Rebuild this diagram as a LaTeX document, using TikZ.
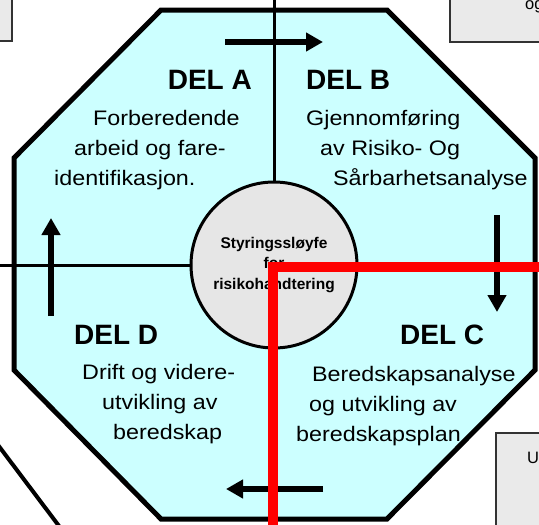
\documentclass[tikz,border=0pt]{standalone}
\usepackage{fontspec}
\setmainfont{Liberation Sans}
\newfontfamily\bodyfont[FakeStretch=1.11]{Liberation Sans}
\usetikzlibrary{arrows.meta}
\definecolor{octcyan}{HTML}{CCFFFF}
\definecolor{hubgray}{HTML}{E6E6E6}
\definecolor{boxgray}{HTML}{EAEAEA}

\begin{document}
\begin{tikzpicture}[x=1pt, y=-1pt,
  sidebox/.style={fill=boxgray, draw=black!80, line width=1.5pt},
  wall/.style={line width=5pt, line join=miter},
  spoke/.style={line width=3pt},
  hub/.style={circle, draw, line width=3pt, fill=hubgray, minimum size=166pt, inner sep=0pt,
    align=center, font=\bfseries\fontsize{15.5}{20.5}\selectfont},
  deltitle/.style={font=\bfseries\fontsize{28}{30}\selectfont, inner sep=0pt},
  deltext/.style={font=\bodyfont\fontsize{21}{30}\selectfont, align=left, inner sep=0pt, anchor=north west},
  boxtext/.style={font=\fontsize{16.5}{18}\selectfont, inner sep=0pt, anchor=base west},
  flow/.style={line width=6pt, -{Triangle[length=17pt, width=18pt]}},
  redline/.style={red, line width=10pt}]
\useasboundingbox (0,0) rectangle (539,525);
% Neighbouring boxes (cut off by the frame)
\draw[sidebox] (-10,-10) rectangle (12,41);
\draw[sidebox] (450,-10) rectangle (560,42);
\draw[sidebox] (496,433) rectangle (560,540);
\node[boxtext] (boxB) at (525,9) {og};
\node[boxtext] (boxC) at (527,463) {Ut};
\draw[line width=4pt] (-5,441) -- (62,530);
% Octagon
\draw[wall, fill=octcyan] (161,10) -- (387,10) -- (535,158) -- (535,370)
  -- (387,519) -- (161,519) -- (14,370) -- (14,158) -- cycle;
% Hub and spokes
\node[hub] (hub) at (274,265) {Styringssløyfe\\for\\risikohandtering};
\coordinate (topend) at (274,-10);
\coordinate (westend) at (-10,265);
\draw[spoke] (topend) -- (hub);
\draw[spoke] (westend) -- (hub);
% Titles
\node[deltitle, anchor=base east] (delA) at (252,89) {DEL A};
\node[deltitle, anchor=base west] (delB) at (306,89) {DEL B};
\node[deltitle, anchor=base west] (delC) at (400,344) {DEL C};
\node[deltitle, anchor=base west] (delD) at (74,344) {DEL D};
% Descriptions
\node[deltext] (txtA) at (54,110) {\hspace*{39pt}Forberedende\\\hspace*{20pt}arbeid og fare-\\identifikasjon.};
\node[deltext] (txtB) at (306,110) {Gjennomføring\\\hspace*{14pt}av Risiko- Og\\\hspace*{27pt}Sårbarhetsanalyse};
\node[deltext] (txtC) at (296,366) {\hspace*{16pt}Beredskapsanalyse\\\hspace*{13pt}og utvikling av\\beredskapsplan};
\node[deltext] (txtD) at (82,364) {Drift og videre-\\\hspace*{20pt}utvikling av\\\hspace*{31pt}beredskap};
% Cycle arrows
\coordinate (ab0) at (225,42);  \coordinate (ab1) at (323,42);
\coordinate (bc0) at (497,215); \coordinate (bc1) at (497,312);
\coordinate (cd0) at (323,489); \coordinate (cd1) at (226,489);
\coordinate (da0) at (51,316);  \coordinate (da1) at (51,218);
\foreach \s/\e in {ab0/ab1, bc0/bc1, cd0/cd1, da0/da1}
  \draw[flow] (\s) -- (\e);
% Red marker
\coordinate (redE) at (560,267);
\coordinate (redS) at (273,540);
\draw[redline] (redE) -| (redS);
\end{tikzpicture}
\end{document}
